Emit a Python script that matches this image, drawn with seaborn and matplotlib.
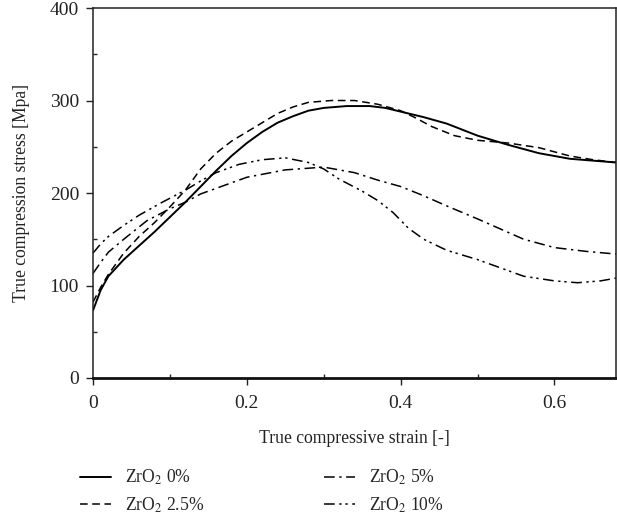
import numpy as np
import pandas as pd
import matplotlib
matplotlib.use("Agg")
import matplotlib.pyplot as plt
import seaborn as sns
from matplotlib.ticker import MultipleLocator

# strain / stress values
strain_0 = [0, 0.01, 0.02, 0.04, 0.06, 0.08, 0.10, 0.12, 0.14, 0.16, 0.18, 0.20, 0.22, 0.24,
            0.26, 0.28, 0.30, 0.33, 0.36, 0.38, 0.40, 0.43, 0.46, 0.50, 0.54, 0.58, 0.62, 0.65, 0.68]
stress_0 = [73, 95, 110, 128, 143, 158, 174, 190, 207, 224, 240, 254, 266, 276,
            283, 289, 292, 294, 294, 292, 288, 282, 275, 262, 252, 243, 237, 235, 233]

strain_25 = [0, 0.01, 0.02, 0.04, 0.06, 0.08, 0.10, 0.12, 0.14, 0.16, 0.18, 0.20, 0.22, 0.24,
             0.26, 0.28, 0.31, 0.34, 0.37, 0.40, 0.42, 0.44, 0.47, 0.50, 0.54, 0.58, 0.62, 0.65, 0.68]
stress_25 = [82, 98, 112, 135, 153, 168, 185, 203, 226, 243, 256, 266, 276, 286,
             293, 298, 300, 300, 296, 289, 281, 272, 262, 257, 254, 249, 240, 236, 233]

strain_5 = [0, 0.01, 0.02, 0.04, 0.07, 0.10, 0.12, 0.14, 0.16, 0.20, 0.25, 0.30, 0.34, 0.37,
            0.40, 0.43, 0.46, 0.50, 0.53, 0.56, 0.60, 0.64, 0.68]
stress_5 = [113, 125, 136, 150, 170, 183, 190, 199, 205, 217, 225, 228, 222, 214,
            207, 197, 186, 172, 161, 150, 141, 137, 134]

strain_10 = [0, 0.01, 0.02, 0.04, 0.06, 0.09, 0.12, 0.14, 0.16, 0.19, 0.22, 0.25, 0.28, 0.30,
             0.32, 0.35, 0.37, 0.39, 0.41, 0.43, 0.46, 0.50, 0.53, 0.56, 0.60, 0.63, 0.66, 0.68]
stress_10 = [135, 145, 153, 165, 176, 190, 203, 213, 222, 231, 236, 238, 233, 226,
             215, 202, 192, 179, 162, 150, 138, 128, 119, 110, 105, 103, 105, 108]

labels = ["ZrO$_2$ 0%", "ZrO$_2$ 2.5%", "ZrO$_2$ 5%", "ZrO$_2$ 10%"]
styles = ["-", (0, (5, 3)), (0, (7, 3, 1.5, 3)), (0, (7, 3, 1.5, 2.5, 1.5, 3))]

sns.set_theme(style="ticks")
plt.rcParams["font.family"] = ["Liberation Serif", "DejaVu Serif"]
plt.rcParams["mathtext.fontset"] = "stix"

fig = plt.figure(figsize=(6.17, 5.14), dpi=100)
ax = fig.add_axes([0.1507, 0.2646, 0.8477, 0.7198])

series = [(strain_0, stress_0), (strain_25, stress_25), (strain_5, stress_5), (strain_10, stress_10)]
for (xs, ys), lab, ls in zip(series, labels, styles):
    sns.lineplot(x=xs, y=ys, ax=ax, color="black", linewidth=1.4 if ls == "-" else 1.1,
                 linestyle=ls, label=lab, legend=False)

ax.set_xlim(0, 0.68)
ax.set_ylim(0, 400)
ax.xaxis.set_major_locator(MultipleLocator(0.2))
ax.xaxis.set_minor_locator(MultipleLocator(0.1))
ax.yaxis.set_major_locator(MultipleLocator(100))
ax.yaxis.set_minor_locator(MultipleLocator(50))
ax.set_xticks([0, 0.2, 0.4, 0.6])
ax.set_xticklabels(["0", "0.2", "0.4", "0.6"])
ax.tick_params(which="major", direction="out", length=5, width=1, labelsize=14, colors="#222222")
ax.tick_params(axis="x", which="major", pad=7)
ax.tick_params(axis="y", which="major", pad=5)
ax.tick_params(which="minor", direction="in", length=3, width=1)
for s in ["top", "right", "left"]:
    ax.spines[s].set_linewidth(1.1)
    ax.spines[s].set_color("#222222")
ax.spines["bottom"].set_linewidth(2)
ax.spines["bottom"].set_color("#111111")

ax.set_xlabel("True compressive strain [-]", fontsize=12.7, color="#222222", labelpad=13)
ax.set_ylabel("True compression stress [Mpa]", fontsize=12.7, color="#222222", labelpad=14)

handles = ax.get_lines()[:4]
fig.legend(handles, labels, loc="upper left", bbox_to_anchor=(80 / 617, 1 - 468 / 514),
           ncol=2, frameon=False, fontsize=12.7, handlelength=1.75, columnspacing=6.8,
           labelspacing=0.45, handletextpad=0.8, borderpad=0, borderaxespad=0)

fig.savefig("out.png", dpi=100)
